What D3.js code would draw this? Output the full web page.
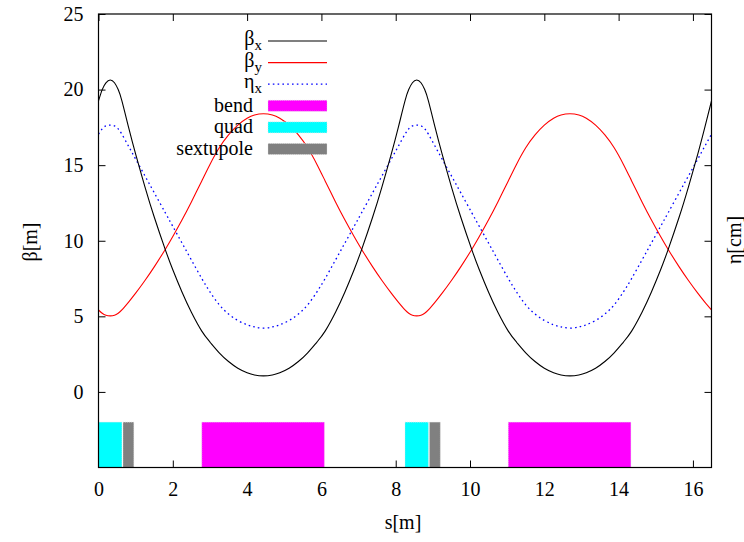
<!DOCTYPE html>
<html>
<head>
<meta charset="utf-8">
<script src="https://cdn.jsdelivr.net/npm/d3@7"></script>
<style>
  html, body { margin: 0; padding: 0; background: #fff; }
  svg { display: block; }
  svg text { font-family: "Liberation Serif", "DejaVu Serif", serif !important; }
</style>
</head>
<body>
<svg id="chart" width="744" height="542"></svg>
<script>
// ---- data ----
const sPos = [
  0, 0.1, 0.2, 0.315, 0.43, 0.53, 0.63, 0.81, 1.0, 1.25, 1.5, 1.8, 2.0, 2.25, 2.5, 2.78, 3.0, 3.25, 3.5, 3.75, 4.0, 4.2, 4.44,
  4.68, 4.88, 5.13, 5.38, 5.63, 5.88, 6.1, 6.38, 6.63, 6.88, 7.08, 7.38, 7.63, 7.88, 8.07, 8.25,
  8.35, 8.45, 8.565, 8.68, 8.78, 8.88, 9.06, 9.25, 9.5, 9.75, 10.05, 10.25, 10.5, 10.75, 11.03, 11.25, 11.5, 11.75, 12.0, 12.25, 12.45, 12.69,
  12.93, 13.13, 13.38, 13.63, 13.88, 14.13, 14.35, 14.63, 14.88, 15.13, 15.33, 15.63, 15.88, 16.13, 16.32, 16.5
];
const betaX = [
  19.25, 20.0, 20.45, 20.63, 20.45, 20.0, 19.25, 17.5, 15.73, 13.57, 11.57, 9.4, 8.08, 6.59, 5.27, 4.02, 3.3, 2.59, 2.01, 1.57, 1.27, 1.12, 1.06,
  1.12, 1.27, 1.57, 2.01, 2.59, 3.3, 4.02, 5.27, 6.59, 8.08, 9.4, 11.57, 13.57, 15.73, 17.5, 19.25,
  20.0, 20.45, 20.63, 20.45, 20.0, 19.25, 17.5, 15.73, 13.57, 11.57, 9.4, 8.08, 6.59, 5.27, 4.02, 3.3, 2.59, 2.01, 1.57, 1.27, 1.12, 1.06,
  1.12, 1.27, 1.57, 2.01, 2.59, 3.3, 4.02, 5.27, 6.59, 8.08, 9.4, 11.57, 13.57, 15.73, 17.5, 19.25
];
const betaY = [
  5.42, 5.2, 5.07, 5.03, 5.07, 5.2, 5.42, 5.94, 6.53, 7.37, 8.27, 9.44, 10.28, 11.39, 12.57, 13.96, 15.05, 16.15, 17.0, 17.65, 18.1, 18.32, 18.4,
  18.32, 18.1, 17.65, 17.0, 16.15, 15.05, 13.96, 12.57, 11.39, 10.28, 9.44, 8.27, 7.37, 6.53, 5.94, 5.42,
  5.2, 5.07, 5.03, 5.07, 5.2, 5.42, 5.94, 6.53, 7.37, 8.27, 9.44, 10.28, 11.39, 12.57, 13.96, 15.05, 16.15, 17.0, 17.65, 18.1, 18.32, 18.4,
  18.32, 18.1, 17.65, 17.0, 16.15, 15.05, 13.96, 12.57, 11.39, 10.28, 9.44, 8.27, 7.37, 6.53, 5.94, 5.42
];
const etaX = [
  17.05, 17.4, 17.6, 17.65, 17.6, 17.4, 17.05, 16.25, 15.4, 14.29, 13.18, 11.84, 10.95, 9.84, 8.73, 7.5, 6.62, 5.76, 5.15, 4.73, 4.44, 4.3, 4.22,
  4.3, 4.44, 4.73, 5.15, 5.76, 6.62, 7.5, 8.73, 9.84, 10.95, 11.84, 13.18, 14.29, 15.4, 16.25, 17.05,
  17.4, 17.6, 17.65, 17.6, 17.4, 17.05, 16.25, 15.4, 14.29, 13.18, 11.84, 10.95, 9.84, 8.73, 7.5, 6.62, 5.76, 5.15, 4.73, 4.44, 4.3, 4.22,
  4.3, 4.44, 4.73, 5.15, 5.76, 6.62, 7.5, 8.73, 9.84, 10.95, 11.84, 13.18, 14.29, 15.4, 16.25, 17.05
];

const elemType  = ["quad", "sextupole", "bend", "quad", "sextupole", "bend"];
const elemStart = [0, 0.66, 2.78, 8.25, 8.91, 11.03];
const elemEnd   = [0.63, 0.95, 6.08, 8.88, 9.2, 14.33];
const elemTop = -2;
const elemBottom = -5;

const xTicks = [0, 2, 4, 6, 8, 10, 12, 14, 16];
const yTicks = [0, 5, 10, 15, 20, 25];
const xDomain = [0, 16.5];
const yDomain = [-5, 25];

const legendNames = ["βx", "βy", "ηx", "bend", "quad", "sextupole"];

// ---- styles ----
const colors = { betaX: "#000000", betaY: "#ff0000", etaX: "#0000ff",
                 bend: "#ff00ff", quad: "#00ffff", sextupole: "#808080" };
const FS = "20px";

const svg = d3.select("#chart");
const L = 98.5, R = 711.5, T = 14, B = 467.5;

const x = d3.scaleLinear().domain(xDomain).range([L, R]);
const y = d3.scaleLinear().domain(yDomain).range([B, T]);

svg.append("defs").append("clipPath").attr("id", "clip")
  .append("rect").attr("x", L).attr("y", T).attr("width", R - L).attr("height", B - T);

// axes (ticks inward, mirrored)
const tl = 7;
const gAx = svg.append("g");
gAx.append("g").attr("transform", `translate(0,${B})`)
  .call(d3.axisBottom(x).tickValues(xTicks).tickSize(-tl).tickPadding(14).tickFormat(d3.format("d")))
  .call(g => g.select(".domain").remove());
gAx.append("g").attr("transform", `translate(0,${T})`)
  .call(d3.axisTop(x).tickValues(xTicks).tickSize(-tl).tickFormat(""))
  .call(g => g.select(".domain").remove());
gAx.append("g").attr("transform", `translate(${L},0)`)
  .call(d3.axisLeft(y).tickValues(yTicks).tickSize(-tl).tickPadding(15).tickFormat(d3.format("d")))
  .call(g => g.select(".domain").remove());
gAx.append("g").attr("transform", `translate(${R},0)`)
  .call(d3.axisRight(y).tickValues(yTicks).tickSize(-tl).tickFormat(""))
  .call(g => g.select(".domain").remove());
gAx.selectAll(".tick line").attr("stroke", "#000").attr("stroke-width", 1);
gAx.selectAll(".tick text").style("font-size", FS).attr("fill", "#000");

// element bars
const bars = svg.append("g").attr("clip-path", "url(#clip)");
elemType.forEach((t, i) => {
  bars.append("rect")
    .attr("x", x(elemStart[i])).attr("y", y(elemTop))
    .attr("width", x(elemEnd[i]) - x(elemStart[i]))
    .attr("height", y(elemBottom) - y(elemTop))
    .attr("fill", colors[t])
    .attr("stroke", "#ddd").attr("stroke-width", 0.6).attr("stroke-dasharray", "1,1");
});

// curves
const pts = (arr) => sPos.map((s, i) => [s, arr[i]]);
const line = d3.line().x(d => x(d[0])).y(d => y(d[1])).curve(d3.curveNatural);
const curves = svg.append("g").attr("clip-path", "url(#clip)").attr("fill", "none");
curves.append("path").attr("d", line(pts(etaX))).attr("stroke", colors.etaX)
  .attr("stroke-width", 1.3).attr("stroke-dasharray", "1.6,3.2");
curves.append("path").attr("d", line(pts(betaY))).attr("stroke", colors.betaY).attr("stroke-width", 1.1);
curves.append("path").attr("d", line(pts(betaX))).attr("stroke", colors.betaX).attr("stroke-width", 1.1);

// frame
svg.append("rect").attr("x", L).attr("y", T).attr("width", R - L).attr("height", B - T)
  .attr("fill", "none").attr("stroke", "#000").attr("stroke-width", 1.2);

// legend
const leg = svg.append("g").attr("fill", "#000");
const legY0 = 41, legDy = 21.6, sx0 = 268, sx1 = 327;
legendNames.forEach((name, i) => {
  const yy = legY0 + legDy * i;
  if (i < 3) {
    const t = leg.append("text").attr("x", 262).attr("y", yy + 4).attr("text-anchor", "end").style("font-size", FS);
    t.append("tspan").text(name[0]);
    t.append("tspan").style("font-size", "15px").attr("dy", 5).text(name.slice(1));
    const key = ["betaX", "betaY", "etaX"][i];
    const ln = leg.append("line").attr("x1", sx0).attr("x2", sx1).attr("y1", yy).attr("y2", yy)
      .attr("stroke", colors[key]).attr("stroke-width", key === "etaX" ? 1.3 : 1.1);
    if (key === "etaX") ln.attr("stroke-dasharray", "1.6,3.2");
  } else {
    leg.append("text").attr("x", 253).attr("y", yy + 6).attr("text-anchor", "end").style("font-size", FS).text(name);
    leg.append("rect").attr("x", sx0).attr("y", yy - 5.5).attr("width", sx1 - sx0).attr("height", 11)
      .attr("fill", colors[name]).attr("stroke", "#ddd").attr("stroke-width", 0.6).attr("stroke-dasharray", "1,1");
  }
});

// axis labels
svg.append("text").attr("x", 403).attr("y", 529).attr("text-anchor", "middle")
  .style("font-size", FS).text("s[m]");
svg.append("text").attr("transform", "translate(37,242) rotate(-90)").attr("text-anchor", "middle")
  .style("font-size", FS).text("β[m]");
svg.append("text").attr("transform", "translate(741,240) rotate(-90)").attr("text-anchor", "middle")
  .style("font-size", FS).text("η[cm]");
</script>
</body>
</html>
